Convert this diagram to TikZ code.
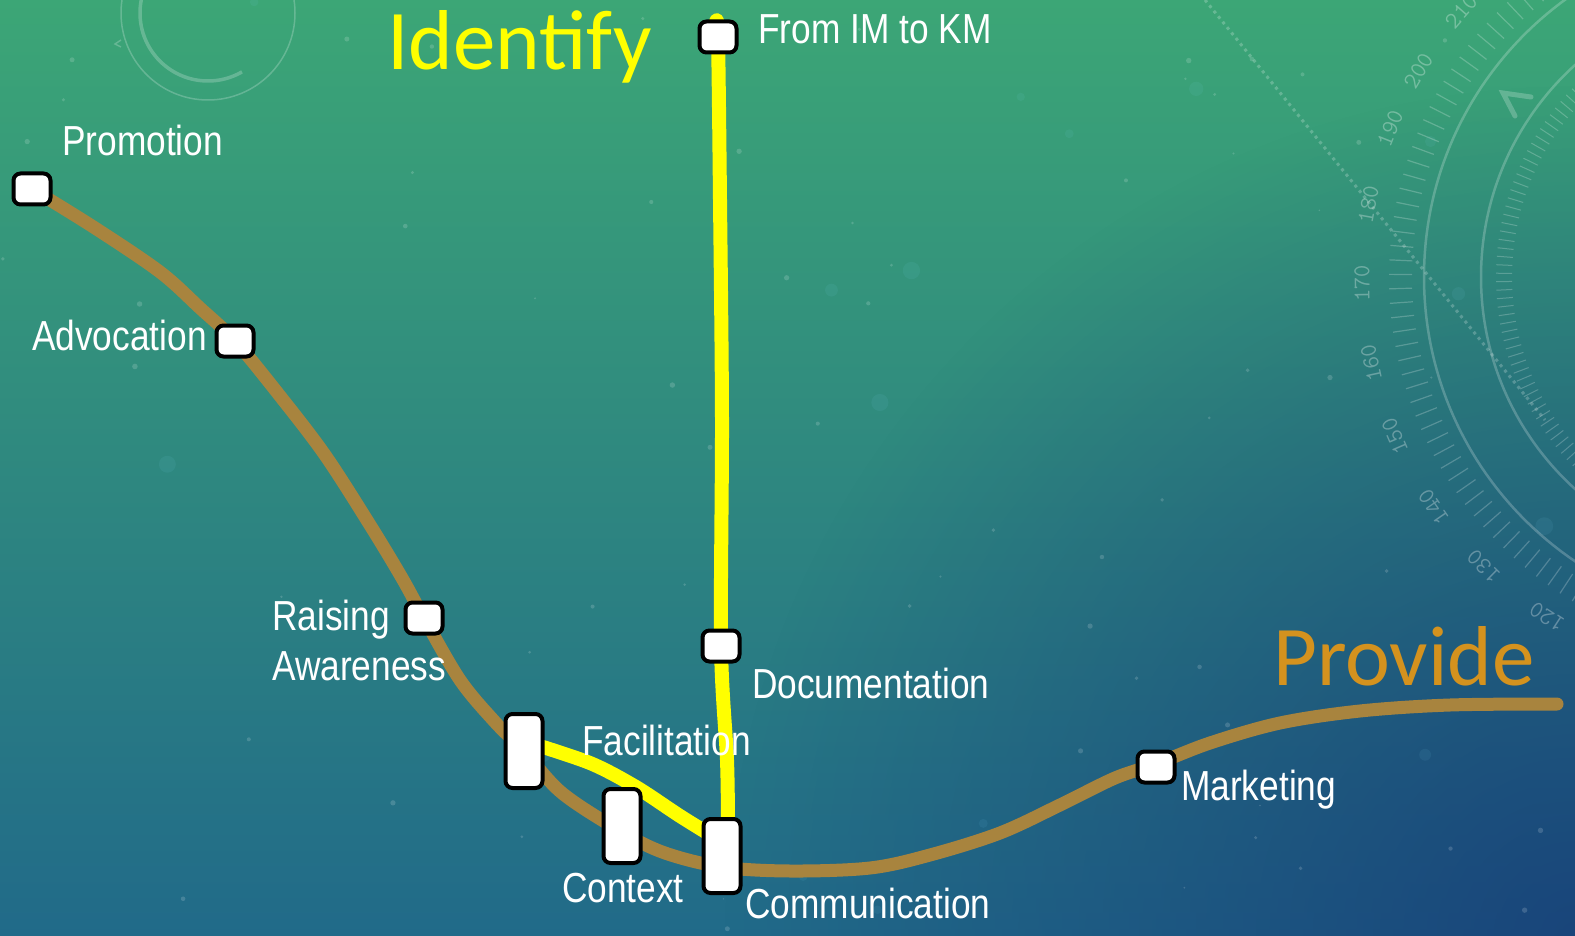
\documentclass[tikz,border=0pt]{standalone}
\usepackage{fontspec}
\newfontfamily\lblfont[FakeStretch=0.84]{Liberation Sans}
\newfontfamily\bigfont{Carlito}
\usetikzlibrary{calc,fadings}
\pgfdeclarelayer{bgimg}
\pgfdeclarelayer{lines}
\pgfsetlayers{bgimg,lines,main}
\definecolor{bgtop}{HTML}{3CA676}
\definecolor{bgmid}{HTML}{2C8B80}
\definecolor{bgbot}{HTML}{216A89}
\definecolor{bgdark}{HTML}{173C77}
\definecolor{pathbrown}{HTML}{A8843E}
\definecolor{pathyellow}{HTML}{FFFF00}
\definecolor{provideorange}{HTML}{D4921E}
\tikzfading[name=radfade, inner color=transparent!0, outer color=transparent!100]
\tikzset{
  boxs/.style={draw=black, line width=4pt, fill=white, rounded corners=7pt, inner sep=0pt,
    minimum width=37pt, minimum height=31pt},
  tallbox/.style={boxs, minimum height=74pt},
  lbl/.style={text=white, font=\lblfont\fontsize{42}{50}\selectfont, inner sep=0pt, anchor=base west},
  biglbl/.style={font=\bigfont\fontsize{85}{92}\selectfont, inner sep=0pt, anchor=base west},
  brownline/.style={draw=pathbrown, line width=13pt, line cap=round, line join=round},
  yellowline/.style={draw=pathyellow, line width=14pt, line cap=round, line join=round},
  deco/.style={draw=white, opacity=0.22}
}
\begin{document}
\begin{tikzpicture}[x=1pt,y=-1pt]
\useasboundingbox (0,0) rectangle (1575,936);

% ---------- background ----------
\begin{pgfonlayer}{bgimg}
\shade[top color=bgtop, middle color=bgmid, bottom color=bgbot] (0,0) rectangle (1575,936);
\begin{scope}
  \clip (0,0) rectangle (1575,936);
  \fill[bgdark, opacity=0.8, path fading=radfade] (1575,936) circle[radius=850];
  % stars
  \pgfmathsetseed{3}
  \foreach \i in {1,...,70}{
    \pgfmathsetmacro\sx{1575*rnd}
    \pgfmathsetmacro\sy{936*rnd}
    \pgfmathsetmacro\sr{0.8+2.0*rnd}
    \fill[white, opacity=0.16] (\sx,\sy) circle[radius=\sr];
  }
  \foreach \i in {1,...,18}{
    \pgfmathsetmacro\sx{1575*rnd}
    \pgfmathsetmacro\sy{936*rnd}
    \pgfmathsetmacro\sr{4+5*rnd}
    \fill[cyan!50!white, opacity=0.08] (\sx,\sy) circle[radius=\sr];
  }
  % compass
  \draw[deco, line width=3pt, dash pattern=on 3pt off 4pt] (1205,0) -- (1545,420);
  \begin{scope}[shift={(1767,277)}, yscale=-1]
    \draw[deco, line width=2.5pt] (0,0) circle[radius=343];
    \draw[deco, line width=2.5pt] (0,0) circle[radius=286];
    \foreach \a in {96,98.2,...,252} \draw[deco, line width=1.2pt] (\a:355) -- (\a:378);
    \foreach \a in {100,101.8,...,256} \draw[deco, line width=1pt] (\a:255) -- (\a:271);
    \foreach \n/\ang in {120/237.1,130/225.6,140/214.6,150/203.2,160/192.2,170/180.9,180/169.7,190/158.5,200/149.4,210/139.0}{
      \node[text=white, opacity=0.3, font=\ttfamily\fontsize{24}{24}\selectfont, rotate=\ang-90, inner sep=0pt] (cn\n) at (\ang:405) {\n};
    }
  \end{scope}
  \draw[deco, line width=5pt, line cap=round] (1531,97) -- (1503,93) -- (1515,116);
  % small circle top left
  \begin{scope}[shift={(208,13)}, yscale=-1]
    \draw[deco, line width=1.5pt] (0,0) circle[radius=87];
    \draw[deco, line width=3.5pt] (90:68) arc[start angle=90, end angle=300, radius=68];
  \end{scope}
  \draw[deco, line width=1.5pt] (121,40) -- (115,44) -- (121,47);
\end{scope}
\end{pgfonlayer}

% ---------- boxes ----------
\node[boxs] (pro) at (32,189) {};
\node[boxs] (adv) at (235,341) {};
\node[boxs] (rai) at (424,618) {};
\node[tallbox] (fac) at (524,751) {};
\node[tallbox] (ctx) at (622,826) {};
\node[tallbox] (com) at (722,856) {};
\node[boxs] (fim) at (718,37) {};
\node[boxs] (doc) at (721,646) {};
\node[boxs] (mkt) at (1156,767) {};

% ---------- labels ----------
\node[lbl] (lpro) at (62,156) {Promotion};
\node[lbl] (ladv) at (32,350) {Advocation};
\node[lbl, anchor=north west, align=left] (lrai) at (272,600) {Raising\\Awareness};
\node[lbl] (lfac) at (582,755) {Facilitation};
\node[lbl] (lctx) at (562,902) {Context};
\node[lbl] (lcom) at (745,918) {Communication};
\node[lbl] (ldoc) at (752,698) {Documentation};
\node[lbl] (lmkt) at (1181,800) {Marketing};
\node[lbl] (lfim) at (758,44) {From IM to KM};
\node[biglbl, text=pathyellow] (lid) at (387,70) {Identify};
\node[biglbl, text=provideorange] (lprov) at (1273,685) {Provide};

% ---------- waypoints ----------
\coordinate (b1) at (95,228);
\coordinate (b2) at (160,272);
\coordinate (b3) at (200,308);
\coordinate (b4) at (280,396);
\coordinate (b5) at (325,455);
\coordinate (b6) at (370,525);
\coordinate (b7) at (402,578);
\coordinate (b8) at (460,680);
\coordinate (b9) at (495,722);
\coordinate (b10) at (562,793);
\coordinate (bctx) at ($(ctx.center)+(0,6)$);
\coordinate (b12) at (665,853);
\coordinate (bcom) at ($(com.center)+(0,11)$);
\coordinate (b14) at (790,871);
\coordinate (b15) at (870,868);
\coordinate (b16) at (930,855);
\coordinate (b17) at (1000,833);
\coordinate (b18) at (1060,805);
\coordinate (b19) at (1115,778);
\coordinate (bmkt) at ($(mkt.center)+(0,-3)$);
\coordinate (b20) at (1210,743);
\coordinate (b21) at (1280,723);
\coordinate (b22) at (1360,711);
\coordinate (b23) at (1450,705);
\coordinate (bend) at (1557,704);

\coordinate (ytop) at (716,22);
\coordinate (y1) at (720,200);
\coordinate (y2) at (722,420);
\coordinate (y3) at (727,760);
\coordinate (ybot) at ($(com.north)+(6,12)$);
\coordinate (yf) at ($(fac.center)+(0,-10)$);
\coordinate (yd1) at (590,763);
\coordinate (yd2) at (636,787);
\coordinate (yd3) at (680,816);
\coordinate (yc) at ($(com.center)+(0,-14)$);

% ---------- connectors ----------
\begin{pgfonlayer}{lines}
\draw[brownline] plot[smooth, tension=0.55] coordinates {(pro.center) (b1) (b2) (b3) (adv.center) (b4) (b5) (b6) (b7) (rai.center) (b8) (b9) (fac.center) (b10) (bctx) (b12) (bcom) (b14) (b15) (b16) (b17) (b18) (b19) (bmkt) (b20) (b21) (b22) (b23) (bend)};
\draw[yellowline] plot[smooth, tension=0.5] coordinates {(ytop) (fim.center) (y1) (y2) (doc.center) (y3) (ybot)};
\draw[yellowline] plot[smooth, tension=0.5] coordinates {(yf) (yd1) (yd2) (yd3) (yc)};
\end{pgfonlayer}
\end{tikzpicture}
\end{document}
